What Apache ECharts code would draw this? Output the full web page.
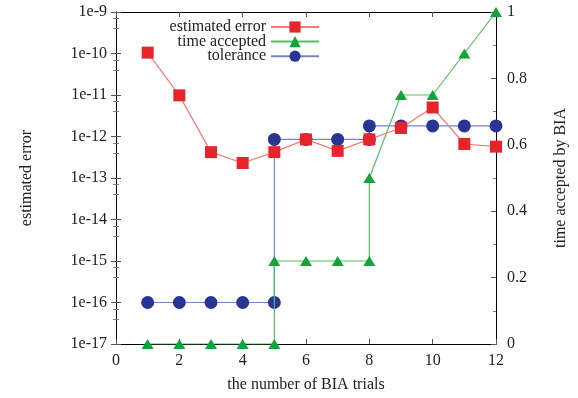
<!DOCTYPE html>
<html>
<head>
<meta charset="utf-8">
<script src="https://cdn.jsdelivr.net/npm/echarts@6/dist/echarts.min.js"></script>
<style>
html,body{margin:0;padding:0;background:#fff;}
#chart{width:578px;height:398px;}
</style>
</head>
<body>
<div id="chart"></div>
<script>
// ---- data ----
const errorX = [1, 2, 3, 4, 5, 6, 7, 8, 9, 10, 11, 12];
const errorY = [1.05e-10, 9.8e-12, 4.2e-13, 2.3e-13, 4.2e-13, 8.5e-13, 4.5e-13, 8.5e-13, 1.6e-12, 5.0e-12, 6.6e-13, 5.7e-13];

const timeX = [1, 2, 3, 4, 5, 5, 6, 7, 8, 8, 9, 10, 11, 12];
const timeY = [0, 0, 0, 0, 0, 0.25, 0.25, 0.25, 0.25, 0.5, 0.75, 0.75, 0.875, 1];

const tolX = [1, 2, 3, 4, 5, 5, 6, 7, 8, 8, 9, 10, 11, 12];
const tolY = [1e-16, 1e-16, 1e-16, 1e-16, 1e-16, 8.5e-13, 8.5e-13, 8.5e-13, 8.5e-13, 1.8e-12, 1.8e-12, 1.8e-12, 1.8e-12, 1.8e-12];

const seriesNames = ['estimated error', 'time accepted', 'tolerance'];
const xTitle = 'the number of BIA trials';
const yTitle = 'estimated error';
const y2Title = 'time accepted by BIA';

const pair = (xs, ys) => xs.map((x, i) => [x, ys[i]]);

const FONT = 'Liberation Serif';
const FS = 16;
const axisLineStyle = { color: '#000', width: 1 };
const txt = { fontFamily: FONT, fontSize: FS, color: '#222' };

const chart = echarts.init(document.getElementById('chart'), null, { renderer: 'canvas' });
chart.setOption({
  animation: false,
  backgroundColor: '#fff',
  textStyle: { fontFamily: FONT },
  grid: { left: 116, right: 82, top: 12, bottom: 54, containLabel: false, outerBoundsMode: 'none' },
  legend: {
    data: seriesNames,
    orient: 'vertical',
    align: 'right',
    right: 258,
    top: 19,
    padding: 0,
    itemWidth: 48,
    itemHeight: 14,
    itemGap: -1.4,
    textStyle: { fontFamily: FONT, fontSize: FS, color: '#222' }
  },
  xAxis: [
    {
      type: 'value', position: 'bottom', min: 0, max: 12, interval: 2,
      name: xTitle, nameLocation: 'middle', nameGap: 33,
      nameTextStyle: txt,
      axisLine: { show: true, onZero: false, lineStyle: axisLineStyle },
      axisTick: { show: true, inside: true, length: 5, lineStyle: { color: '#555' } },
      axisLabel: Object.assign({ margin: 9 }, txt),
      splitLine: { show: false }
    },
    {
      type: 'value', position: 'top', min: 0, max: 12, interval: 2,
      axisLine: { show: true, onZero: false, lineStyle: axisLineStyle },
      axisTick: { show: true, inside: true, length: 5, lineStyle: { color: '#555' } },
      axisLabel: { show: false },
      splitLine: { show: false }
    }
  ],
  yAxis: [
    {
      type: 'log', logBase: 10, position: 'left', min: 1e-17, max: 1e-9, splitNumber: 8,
      name: yTitle, nameLocation: 'middle', nameGap: 81, nameRotate: 90,
      nameTextStyle: txt,
      axisLine: { show: true, onZero: false, lineStyle: axisLineStyle },
      axisTick: { show: true, inside: true, length: 5, lineStyle: { color: '#555' } },
      minorTick: { show: true, splitNumber: 3, length: 3, lineStyle: { color: '#777' } },
      axisLabel: Object.assign({ margin: 9, formatter: v => '1e' + Math.round(Math.log10(v)) }, txt),
      splitLine: { show: false }
    },
    {
      type: 'value', position: 'right', min: 0, max: 1, interval: 0.2,
      name: y2Title, nameLocation: 'middle', nameGap: 57, nameRotate: 90,
      nameTextStyle: txt,
      axisLine: { show: true, onZero: false, lineStyle: axisLineStyle },
      axisTick: { show: true, inside: true, length: 5, lineStyle: { color: '#555' } },
      minorTick: { show: true, splitNumber: 2, length: 3, lineStyle: { color: '#777' } },
      axisLabel: Object.assign({ margin: 11, formatter: v => String(+v.toFixed(1)) }, txt),
      splitLine: { show: false }
    },
    {
      type: 'log', logBase: 10, position: 'right', min: 1e-17, max: 1e-9, splitNumber: 8,
      axisLine: { show: false },
      axisTick: { show: true, inside: true, length: 5, lineStyle: { color: '#555' } },
      minorTick: { show: true, splitNumber: 3, length: 3, lineStyle: { color: '#777' } },
      axisLabel: { show: false },
      splitLine: { show: false }
    }
  ],
  series: [
    {
      name: seriesNames[0], type: 'line', xAxisIndex: 0, yAxisIndex: 0, z: 4,
      data: pair(errorX, errorY),
      symbol: 'rect', symbolSize: 12,
      itemStyle: { color: '#e8242b' },
      lineStyle: { color: '#f27a7a', width: 1.2 }
    },
    {
      name: seriesNames[1], type: 'line', xAxisIndex: 0, yAxisIndex: 1, z: 3,
      data: pair(timeX, timeY),
      symbol: 'triangle', symbolSize: [12, 10],
      itemStyle: { color: '#13a338' },
      lineStyle: { color: '#55bf65', width: 1.2 }
    },
    {
      name: seriesNames[2], type: 'line', xAxisIndex: 0, yAxisIndex: 0, z: 2,
      data: pair(tolX, tolY),
      symbol: 'circle', symbolSize: 13,
      itemStyle: { color: '#283593' },
      lineStyle: { color: '#7884c4', width: 1.2 }
    }
  ]
});
</script>
</body>
</html>
